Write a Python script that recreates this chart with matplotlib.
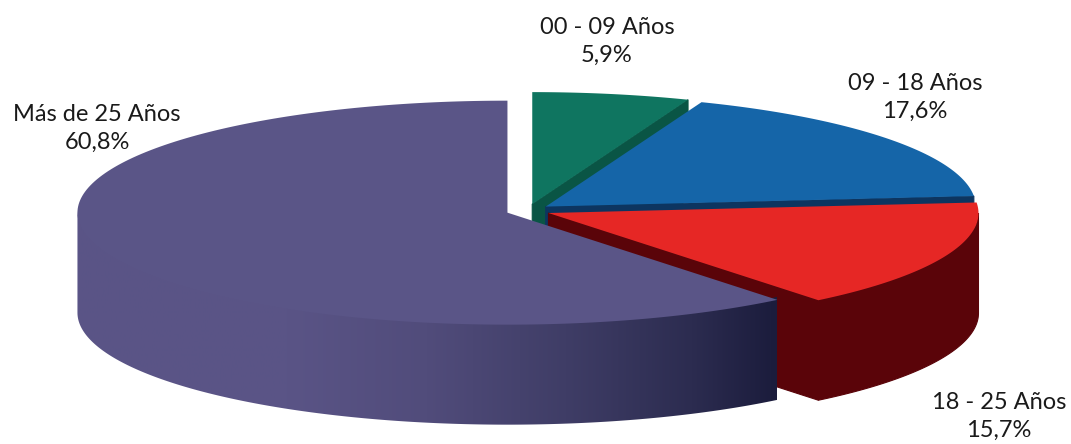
import numpy as np
import matplotlib
matplotlib.use('Agg')
import matplotlib.pyplot as plt
from matplotlib.colors import LinearSegmentedColormap
from matplotlib.patches import Polygon

# data, clockwise from 12 o'clock
categories = ['00 - 09 Años', '09 - 18 Años', '18 - 25 Años', 'Más de 25 Años']
values = [5.9, 17.6, 15.7, 60.8]

top_colors = ['#0f7560', '#1565a8', '#e62725', '#5a5587']
wall_colors = ['#0a5545', '#0d3560', '#5a0409', None]
label_pos = [(607, 41), (915, 97), (999, 416), (97, 128)]

# pie projection, in pixels
CX, CY = 528.2, 210.5
RX, RY = 430, 112
DEPTH = 100
EXPLODE_X, EXPLODE_Y = 22, 6.5

plt.rcParams['font.family'] = ['Lato', 'DejaVu Sans']

fig = plt.figure(figsize=(10.71, 4.44), dpi=100)
ax = fig.add_axes([0, 0, 1, 1])
ax.set_xlim(0, 1071)
ax.set_ylim(444, 0)
ax.axis('off')


def arc(cx, cy, t0, t1, n=200):
    t = np.radians(np.linspace(t0, t1, n))
    return np.column_stack([cx + RX * np.sin(t), cy - RY * np.cos(t)])


def shade(pts, lift=0):
    # lift tucks the upper edge under the slice top so no seam shows
    return np.vstack([pts - [0, lift], pts[::-1] + [0, DEPTH]])


# dark end of the big slice's side
wall_cmap = LinearSegmentedColormap.from_list('wall', [
    (0.00, '#5a5587'), (0.30, '#5a5486'), (0.50, '#514c7b'),
    (0.70, '#3f3d66'), (0.88, '#2c2c50'), (1.00, '#1b1c3c')])

edges = np.concatenate([[0], np.cumsum(values)]) / np.sum(values) * 360

for i in range(len(values)):
    t0, t1 = edges[i], edges[i + 1]
    mid = np.radians((t0 + t1) / 2)
    cx = CX + EXPLODE_X * np.sin(mid)
    cy = CY - EXPLODE_Y * np.cos(mid)
    rim = arc(cx, cy, t0, t1)
    tip = np.array([[cx, cy]])

    # side wall, only the part facing the viewer
    w0, w1 = max(t0, 90), min(t1, 270)
    if wall_colors[i] is not None:
        cut = np.vstack([tip, rim[-1:]])
        ax.add_patch(Polygon(shade(cut), fc=wall_colors[i], ec=wall_colors[i], lw=0.8, zorder=i * 2 + 1))
        if w1 > w0:
            ax.add_patch(Polygon(shade(arc(cx, cy, w0, w1)), fc=wall_colors[i], ec=wall_colors[i],
                                 lw=0.8, zorder=i * 2 + 1))
    else:
        wall = Polygon(shade(arc(cx, cy, w0, w1), lift=3), fc='none', ec='none', zorder=i * 2 + 1)
        ax.add_patch(wall)
        x0, x1 = cx - RX, cx + RX * np.sin(np.radians(t0))
        im = ax.imshow(np.linspace(0, 1, 256).reshape(1, -1), cmap=wall_cmap, aspect='auto',
                       extent=[x0, x1, 444, 0], zorder=i * 2 + 1)
        im.set_clip_path(wall)

    ax.add_patch(Polygon(np.vstack([tip, rim]), fc=top_colors[i], ec='none', zorder=i * 2 + 2))

ax.set_xlim(0, 1071)
ax.set_ylim(444, 0)

for name, val, (x, y) in zip(categories, values, label_pos):
    ax.text(x, y, f"{name}\n{val:.1f}%".replace('.', ','), ha='center', va='center',
            fontsize=17, color='#1a1a1a', linespacing=1.41, zorder=20)

fig.savefig('out.png', dpi=100)
